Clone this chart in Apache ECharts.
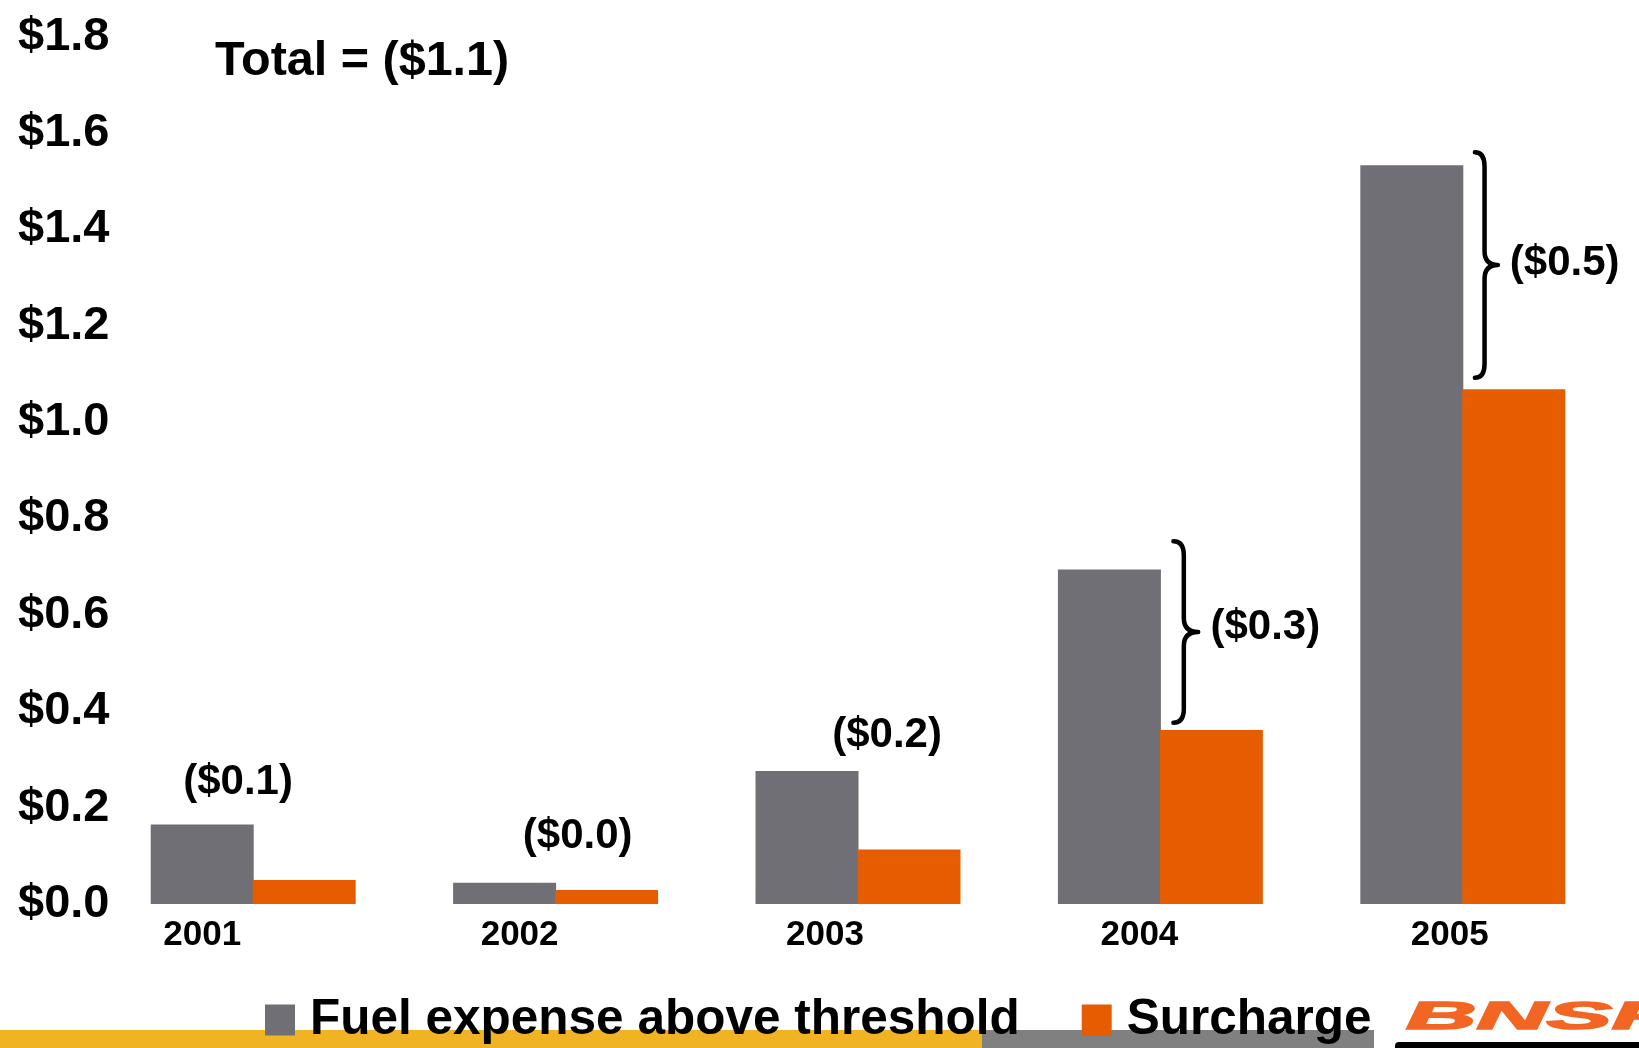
<!DOCTYPE html>
<html>
<head>
<meta charset="utf-8">
<script src="https://cdn.jsdelivr.net/npm/echarts@6/dist/echarts.min.js"></script>
<style>
  html, body { margin: 0; padding: 0; background: #ffffff; }
  #chart { width: 1639px; height: 1048px; }
</style>
</head>
<body>
<div id="chart"></div>
<script>
// ---- data ----
const years = ['2001', '2002', '2003', '2004', '2005'];
const fuelExpense = [0.165, 0.044, 0.276, 0.694, 1.533];
const surcharge = [0.050, 0.029, 0.113, 0.361, 1.068];
const gapLabels = ['($0.1)', '($0.0)', '($0.2)', '($0.3)', '($0.5)'];
const totalLabel = 'Total = ($1.1)';
const bracketYears = [3, 4];
const bracketTop = [0.753, 1.560];
const bracketBottom = [0.376, 1.092];
const yMin = 0, yMax = 1.8, yStep = 0.2;
const seriesNames = ['Fuel expense above threshold', 'Surcharge'];

// ---- layout / style ----
const FONT = '"Liberation Sans", Arial, Helvetica, sans-serif';
const GRAY = '#706F75';
const ORANGE = '#E55D00';
const gapLabelY = [0.253, 0.141, 0.350, 0.574, 1.329];
const gapLabelDx = [-0.05, 0.073, 0.096, 0.347, 0.337]; // fraction of band
const yearPad = [102, 72, 66, 42, 26];
const bracketX0 = [0.043, 0.040];   // fraction of band from category centre
const bracketW = [0.082, 0.076];

const chart = echarts.init(document.getElementById('chart'), null, { renderer: 'canvas' });

const rich = {};
years.forEach((y, i) => {
  rich['y' + i] = { fontSize: 35, fontWeight: 'bold', fontFamily: FONT, color: '#000', padding: [0, yearPad[i], 0, 0] };
});

const option = {
  animation: false,
  backgroundColor: '#ffffff',
  grid: { left: 102, right: 25, top: 36.6, bottom: 144, containLabel: false },
  legend: {
    data: seriesNames,
    left: 265, top: 995,
    itemWidth: 30, itemHeight: 31, itemGap: 62,
    icon: 'rect',
    padding: 0,
    textStyle: { fontSize: 49.5, fontWeight: 'bold', fontFamily: FONT, color: '#000', padding: [0, 0, 0, 10] }
  },
  xAxis: {
    type: 'category',
    data: years,
    axisLine: { show: false },
    axisTick: { show: false },
    axisLabel: {
      margin: 14,
      formatter: (v, i) => '{y' + i + '|' + v + '}',
      rich: rich
    }
  },
  yAxis: {
    type: 'value',
    min: yMin, max: yMax, interval: yStep,
    splitLine: { show: false },
    axisLine: { show: false },
    axisTick: { show: false },
    axisLabel: {
      align: 'left',
      margin: 84,
      fontSize: 47, fontWeight: 'bold', fontFamily: FONT, color: '#000',
      formatter: v => '$' + v.toFixed(1)
    }
  },
  series: [
    {
      name: seriesNames[0], type: 'bar', data: fuelExpense,
      barWidth: 103, barGap: '-1%',
      itemStyle: { color: GRAY }
    },
    {
      name: seriesNames[1], type: 'bar', data: surcharge,
      barWidth: 103, barGap: '-1%',
      itemStyle: { color: ORANGE }
    },
    {
      type: 'custom',
      data: gapLabels.map((t, i) => [i, gapLabelY[i]]),
      silent: true,
      z: 5,
      renderItem: function (params, api) {
        const idx = api.value(0);
        const pt = api.coord([idx, api.value(1)]);
        const band = api.size([1, 0])[0];
        return {
          type: 'text',
          x: pt[0] + gapLabelDx[idx] * band,
          y: pt[1],
          style: {
            text: gapLabels[idx],
            fill: '#000',
            font: 'bold 42px ' + FONT,
            align: 'center',
            verticalAlign: 'middle'
          }
        };
      }
    },
    {
      type: 'custom',
      data: bracketYears.map((c, i) => [c, bracketTop[i], bracketBottom[i], i]),
      silent: true,
      z: 5,
      renderItem: function (params, api) {
        const c = api.value(0);
        const k = api.value(3);
        const top = api.coord([c, api.value(1)]);
        const bot = api.coord([c, api.value(2)]);
        const band = api.size([1, 0])[0];
        const x0 = top[0] + bracketX0[k] * band;
        const w = bracketW[k] * band;
        const tip = x0 + w;
        const a = x0 + w * 0.42;
        const yT = top[1], yB = bot[1], yM = (yT + yB) / 2;
        const r = 14;
        const d = 'M' + x0 + ' ' + yT +
          ' Q' + a + ' ' + yT + ' ' + a + ' ' + (yT + r) +
          ' L' + a + ' ' + (yM - r) +
          ' Q' + a + ' ' + yM + ' ' + tip + ' ' + yM +
          ' Q' + a + ' ' + yM + ' ' + a + ' ' + (yM + r) +
          ' L' + a + ' ' + (yB - r) +
          ' Q' + a + ' ' + yB + ' ' + x0 + ' ' + yB;
        return {
          type: 'path',
          shape: { pathData: d },
          style: { stroke: '#000', lineWidth: 4.5, fill: null, lineCap: 'round', lineJoin: 'round' }
        };
      }
    }
  ],
  graphic: [
    { type: 'rect', left: 0, top: 1030, shape: { width: 982, height: 18 }, style: { fill: '#F0B323' }, z: -10 },
    { type: 'rect', left: 982, top: 1030, shape: { width: 392, height: 18 }, style: { fill: '#808080' }, z: -10 },
    { type: 'text', left: 215, top: 37, style: { text: totalLabel, fill: '#000', font: 'bold 48.5px ' + FONT } },
    { type: 'rect', left: 1395, top: 1042, shape: { width: 260, height: 8, r: [4, 0, 0, 0] }, style: { fill: '#000' } },
    { type: 'text', x: 1406, y: 1038, scaleX: 2.5, style: { text: 'BNSF', fill: '#F26522', stroke: '#F26522', lineWidth: 1.6, font: 'italic 900 39px ' + FONT, verticalAlign: 'bottom' } }
  ]
};

chart.setOption(option);
</script>
</body>
</html>
